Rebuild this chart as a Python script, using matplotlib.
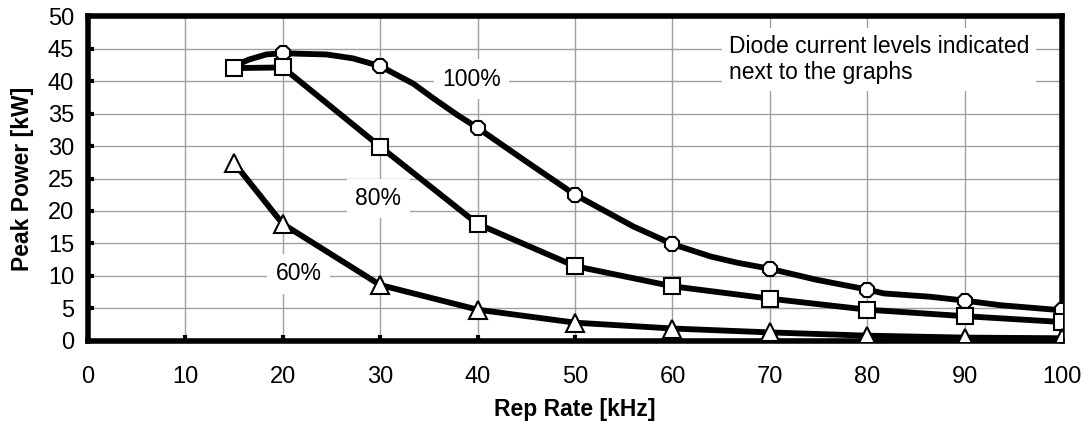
import matplotlib
matplotlib.use("Agg")
import matplotlib.pyplot as plt

plt.rcParams['font.family'] = ['Liberation Sans', 'DejaVu Sans']

# Marker data
rep_rate = [15, 20, 30, 40, 50, 60, 70, 80, 90, 100]
p100_markers = [42.0, 44.3, 42.3, 32.8, 22.5, 14.9, 11.1, 7.9, 6.2, 4.7]
p80 = [42.0, 42.1, 29.9, 18.0, 11.5, 8.4, 6.5, 4.8, 3.8, 2.9]
p60 = [27.4, 18.0, 8.6, 4.8, 2.8, 1.9, 1.3, 0.8, 0.5, 0.4]

# Denser line trace for the 100% curve
line100_x = [15, 16.5, 18.3, 20, 22, 24.5, 27.2, 30, 33.4, 35.5, 37.9, 40, 45, 50,
             56, 60, 63.9, 66.6, 70, 74.8, 80, 81.7, 86.4, 90, 93.6, 100]
line100_y = [42.3, 43.3, 44.1, 44.3, 44.2, 44.1, 43.5, 42.3, 39.6, 37.3, 34.8, 32.8, 27.6, 22.5,
             17.6, 14.9, 13.0, 12.05, 11.1, 9.4, 7.9, 7.3, 6.8, 6.2, 5.5, 4.7]

labels = ["100%", "80%", "60%"]
label_pos = [(39.4, 40.3), (29.8, 21.9), (21.6, 10.3)]
note = "Diode current levels indicated\nnext to the graphs"

xticks = list(range(0, 101, 10))
yticks = list(range(0, 51, 5))

fig = plt.figure(figsize=(10.86, 4.25), dpi=100)
ax = fig.add_axes([0.081, 0.198, 0.897, 0.764])

ax.set_xlim(0, 100)
ax.set_ylim(0, 50)
ax.set_xticks(xticks)
ax.set_yticks(yticks)
ax.grid(True, color='#a0a0a0', linewidth=1.0, zorder=0)
ax.set_axisbelow(True)

lw = 4.2
ax.plot(line100_x, line100_y, color='black', linewidth=lw, zorder=3, solid_joinstyle='round')
ax.plot(rep_rate, p100_markers, linestyle='none', marker='8', markersize=11.5,
        markerfacecolor='white', markeredgecolor='black', markeredgewidth=1.5, zorder=4)
ax.plot(rep_rate, p80, color='black', linewidth=lw, marker='s', markersize=11.5,
        markerfacecolor='white', markeredgecolor='black', markeredgewidth=1.5, zorder=5)
ax.plot(rep_rate, p60, color='black', linewidth=lw, marker='^', markersize=12.5,
        markerfacecolor='white', markeredgecolor='black', markeredgewidth=1.5, zorder=5)

for lab, (lx, ly) in zip(labels, label_pos):
    ax.text(lx, ly, lab, fontsize=16.5, ha='center', va='center', zorder=2,
            bbox=dict(facecolor='white', edgecolor='none', pad=6))

ax.text(65.8, 43.3, note, fontsize=16.5, ha='left', va='center', linespacing=1.2, zorder=2,
        bbox=dict(facecolor='white', edgecolor='none', pad=5))

for s in ax.spines.values():
    s.set_linewidth(4)
    s.set_color('black')

ax.tick_params(axis='both', direction='in', length=4, width=3, color='black',
               labelsize=17)
ax.tick_params(axis='y', pad=10)
ax.tick_params(axis='x', pad=18)

ax.set_xlabel("Rep Rate [kHz]", fontsize=16.5, fontweight='bold', labelpad=7)
ax.set_ylabel("Peak Power [kW]", fontsize=16.5, fontweight='bold', labelpad=10)

fig.savefig("out.png", dpi=100)
